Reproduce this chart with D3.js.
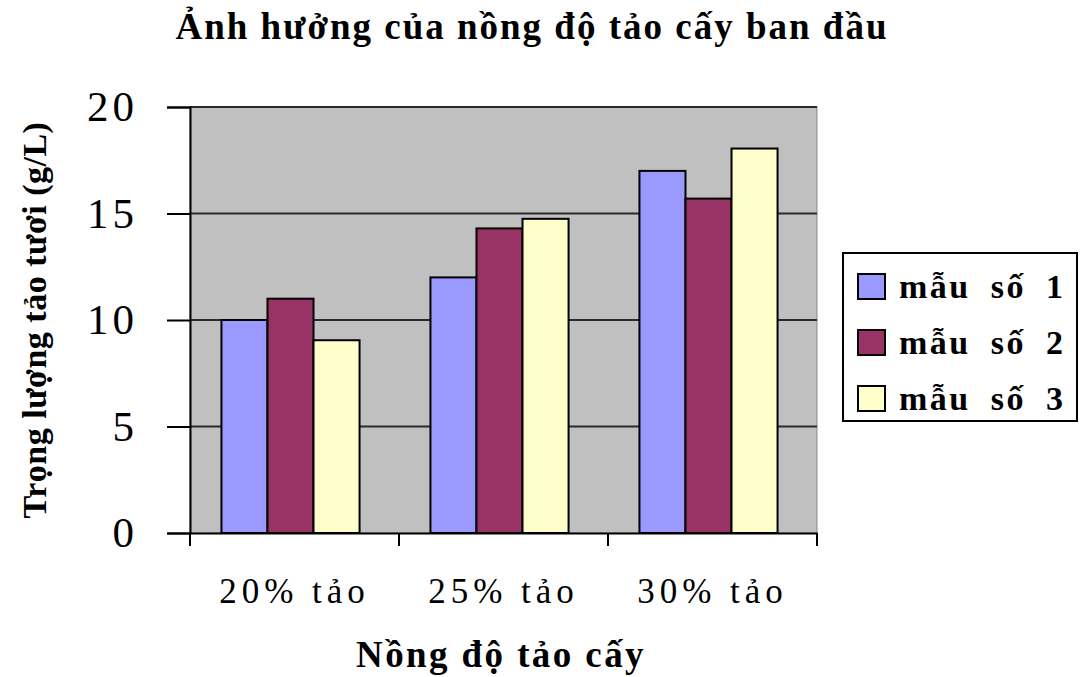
<!DOCTYPE html>
<html>
<head>
<meta charset="utf-8">
<script src="https://cdn.jsdelivr.net/npm/d3@7"></script>
<style>
  body { margin: 0; background: #fff; }
  svg { display: block; }
  svg text { font-family: "Liberation Serif", "DejaVu Serif", serif; }
</style>
</head>
<body>
<div id="chart"></div>
<script>
// dữ liệu
const categories = ["20% tảo", "25% tảo", "30% tảo"];
const seriesNames = ["mẫu số 1", "mẫu số 2", "mẫu số 3"];
const mau1 = [10, 12, 17];
const mau2 = [11, 14.3, 15.7];
const mau3 = [9.05, 14.75, 18.05];
const yTicks = [0, 5, 10, 15, 20];
const colors = ["#9999ff", "#993366", "#ffffcc"];

const width = 1082, height = 677;
const svg = d3.select("#chart").append("svg")
  .attr("width", width)
  .attr("height", height);

const pL = 190, pR = 817, pT = 107, pB = 533;

const x = d3.scaleBand().domain(categories).range([pL, pR]);
const xs = d3.scaleBand().domain(seriesNames).range([-4, x.bandwidth() - 4])
  .paddingInner(0).paddingOuter(0.77);
const y = d3.scaleLinear().domain([0, 20]).range([pB, pT]);

// nền vùng vẽ
svg.append("rect")
  .attr("x", pL).attr("y", pT)
  .attr("width", pR - pL).attr("height", pB - pT)
  .attr("fill", "#c0c0c0")
  .attr("stroke", "#8a8a8a").attr("stroke-width", 1);

// lưới ngang
svg.selectAll(".grid")
  .data(yTicks.filter(d => d > 0))
  .enter().append("line")
  .attr("x1", pL).attr("x2", pR)
  .attr("y1", d => y(d)).attr("y2", d => y(d))
  .attr("stroke", "#2a2a2a").attr("stroke-width", 2);

// cột
const data = categories.map((c, i) => ({
  cat: c,
  vals: [mau1[i], mau2[i], mau3[i]]
}));
const groups = svg.selectAll(".g").data(data).enter().append("g")
  .attr("transform", d => "translate(" + x(d.cat) + ",0)");
groups.selectAll("rect")
  .data(d => d.vals.map((v, j) => ({ name: seriesNames[j], v: v, j: j })))
  .enter().append("rect")
  .attr("x", d => xs(d.name))
  .attr("y", d => y(d.v))
  .attr("width", xs.bandwidth())
  .attr("height", d => y(0) - y(d.v))
  .attr("fill", d => colors[d.j])
  .attr("stroke", "#000").attr("stroke-width", 2);

// trục y
const yAxis = d3.axisLeft(y).tickValues(yTicks).tickSize(23).tickPadding(29);
const gy = svg.append("g").attr("transform", "translate(" + pL + ",0)").call(yAxis);
gy.attr("font-family", null);
gy.select(".domain").attr("stroke", "#000").attr("stroke-width", 2);
gy.selectAll(".tick line").attr("stroke", "#000").attr("stroke-width", 2);
gy.selectAll("text")
  .attr("font-size", 43).attr("fill", "#000")
  .attr("letter-spacing", 4);

// trục x
const xAxis = d3.axisBottom(x).tickSize(0);
const gx = svg.append("g").attr("transform", "translate(0," + pB + ")").call(xAxis);
gx.attr("font-family", null);
gx.select(".domain").attr("stroke", "#000").attr("stroke-width", 2);
gx.selectAll("text")
  .attr("y", 70).attr("dy", 0)
  .attr("font-size", 35).attr("fill", "#000")
  .attr("letter-spacing", 5);
// vạch chia giữa các nhóm
svg.selectAll(".xtick")
  .data(categories.concat(["end"]))
  .enter().append("line")
  .attr("x1", (d, i) => i < categories.length ? x(d) : pR)
  .attr("x2", (d, i) => i < categories.length ? x(d) : pR)
  .attr("y1", pB).attr("y2", pB + 13)
  .attr("stroke", "#000").attr("stroke-width", 2);

// tiêu đề
svg.append("text")
  .attr("x", 532).attr("y", 39)
  .attr("text-anchor", "middle")
  .attr("font-size", 37).attr("font-weight", "bold")
  .attr("letter-spacing", 2)
  .text("Ảnh hưởng của nồng độ tảo cấy ban đầu");

svg.append("text")
  .attr("x", 501).attr("y", 667)
  .attr("text-anchor", "middle")
  .attr("font-size", 37).attr("font-weight", "bold")
  .attr("letter-spacing", 2.4)
  .text("Nồng độ tảo cấy");

svg.append("text")
  .attr("transform", "translate(46,320) rotate(-90)")
  .attr("text-anchor", "middle")
  .attr("font-size", 34).attr("font-weight", "bold")
  .attr("letter-spacing", 0.5)
  .text("Trọng lượng tảo tươi (g/L)");

// chú giải
const lg = svg.append("g");
lg.append("rect")
  .attr("x", 843).attr("y", 253)
  .attr("width", 234).attr("height", 168)
  .attr("fill", "#fff").attr("stroke", "#000").attr("stroke-width", 2);
const rows = lg.selectAll(".row").data(seriesNames).enter().append("g")
  .attr("transform", (d, i) => "translate(858," + (274 + i * 56) + ")");
rows.append("rect")
  .attr("width", 27).attr("height", 25)
  .attr("fill", (d, i) => colors[i])
  .attr("stroke", "#000").attr("stroke-width", 2);
rows.append("text")
  .attr("x", 41).attr("y", 24)
  .attr("font-size", 34).attr("font-weight", "bold")
  .attr("letter-spacing", 2.5)
  .attr("word-spacing", 9)
  .text(d => d);
</script>
</body>
</html>
